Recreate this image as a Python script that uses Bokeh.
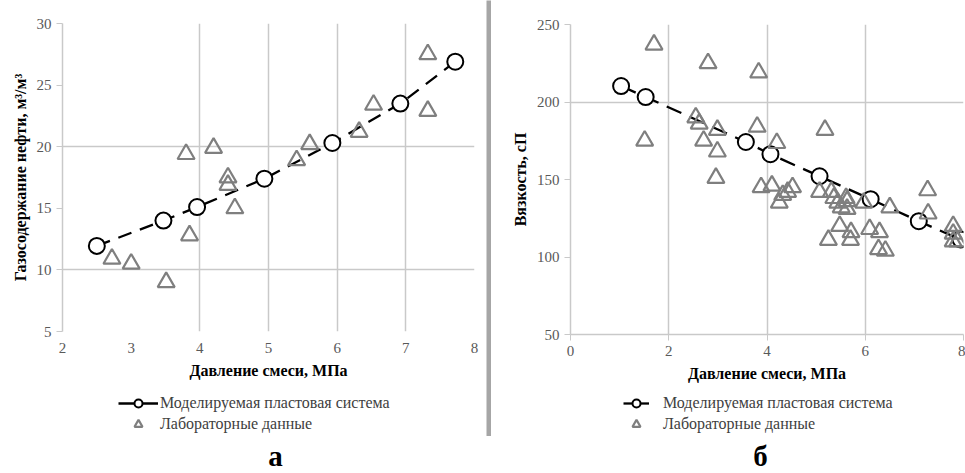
from bokeh.plotting import figure
from bokeh.models import Legend, LegendItem, Label, FixedTicker
from bokeh.layouts import row, column
from bokeh.embed import file_html
from bokeh.resources import INLINE

# ---------------- data ----------------
# Panel a: gas content of oil vs mixture pressure
gas_model_p = [2.5, 3.47, 3.96, 4.94, 5.93, 6.92, 7.72]
gas_model_v = [11.95, 14.0, 15.1, 17.4, 20.3, 23.5, 26.9]
gas_lab_p = [2.72, 3.0, 3.51, 3.80, 3.85, 4.20, 4.41, 4.41, 4.51, 5.41, 5.60, 6.32, 6.53, 7.32, 7.32]
gas_lab_v = [10.9, 10.5, 9.0, 19.4, 12.8, 19.9, 17.5, 16.9, 15.0, 18.9, 20.2, 21.2, 23.4, 27.5, 22.9]

# Panel b: viscosity vs mixture pressure
visc_model_p = [1.03, 1.53, 3.57, 4.07, 5.07, 6.11, 7.09, 7.94]
visc_model_v = [210.3, 203.2, 174.2, 166.3, 152.1, 137.3, 123.1, 111.3]
visc_lab_p = [1.70, 2.80, 3.83, 1.51, 2.55, 2.62, 2.99, 2.71, 2.99, 2.96, 3.80, 3.88, 4.10,
              4.20, 5.18, 4.25, 4.32, 4.42, 4.52, 5.07, 5.31, 5.36, 5.44, 5.51, 5.61, 5.63,
              5.63, 5.97, 5.48, 5.71, 5.70, 5.25, 6.09, 6.29, 6.27, 6.41, 6.50, 7.27, 7.28,
              7.79, 7.79, 7.79, 7.88]
visc_lab_v = [237, 225, 219, 175, 190, 186, 182, 175, 168, 151, 184, 145, 146,
              173.5, 182, 135, 140, 142, 145, 142, 142, 138, 135, 132, 138, 131,
              136, 135, 120, 116, 111, 111, 118, 116, 105, 104, 132, 143, 128,
              120, 115, 110, 110]

gas_xticks = [2, 3, 4, 5, 6, 7, 8]
gas_yticks = [5, 10, 15, 20, 25, 30]
visc_xticks = [0, 2, 4, 6, 8]
visc_yticks = [50, 100, 150, 200, 250]

model_label = "Моделируемая пластовая система"
lab_label = "Лабораторные данные"
x_title = "Давление смеси, МПа"

SERIF = "Liberation Serif"
GRID = "#c9c9c9"
TRI = "#7f7f7f"

LINE_STYLE = dict(line_color="black", line_width=2.3)
CIRC_STYLE = dict(marker="circle", size=16, fill_color="white", line_color="black", line_width=2)
TRI_STYLE = dict(marker="triangle", size=17, fill_color=None, line_color=TRI, line_width=2.2)


def style(p, xticks, yticks, xgrid, ygrid, ytitle):
    p.xaxis.ticker = FixedTicker(ticks=xticks)
    p.yaxis.ticker = FixedTicker(ticks=yticks)
    p.xgrid.ticker = FixedTicker(ticks=xgrid)
    p.ygrid.ticker = FixedTicker(ticks=ygrid)
    for g in (p.xgrid, p.ygrid):
        g.grid_line_color = GRID
        g.grid_line_width = 1.5
    for ax in (p.xaxis, p.yaxis):
        ax.major_label_text_font = SERIF
        ax.major_label_text_font_size = "15px"
        ax.major_label_text_color = "#595959"
        ax.axis_label_text_font = SERIF
        ax.axis_label_text_font_style = "bold"
        ax.axis_label_text_font_size = "16px"
        ax.axis_label_text_color = "#000000"
        ax.axis_line_color = GRID
        ax.axis_line_width = 1.5
        ax.major_tick_line_color = GRID
        ax.minor_tick_line_color = None
        ax.major_tick_in = 0
        ax.major_tick_out = 6
    p.xaxis.axis_label = x_title
    p.yaxis.axis_label = ytitle
    p.xaxis.axis_label_standoff = 6
    p.yaxis.axis_label_standoff = 5
    p.outline_line_color = None
    p.background_fill_color = "white"
    p.border_fill_color = "white"


def bottom_panel(width, bl, br, xs, ys, legend_x, gw, standoff, letter, letter_x):
    """Legend and panel letter below a chart. The swatch renderers reuse the chart's
    data but sit outside this panel's visible range, so only the legend shows."""
    q = figure(width=width, height=81, output_backend="svg", toolbar_location=None,
               min_border_left=bl, min_border_right=br, min_border_top=0, min_border_bottom=0,
               x_axis_type=None, y_axis_type=None, x_range=(-1000, -999), y_range=(-1000, -999))
    q.outline_line_color = None
    q.grid.visible = False
    q.background_fill_color = "white"
    q.border_fill_color = "white"
    r_line = q.line(xs[0], ys[0], line_dash="solid", **LINE_STYLE)
    r_circ = q.scatter(xs[0], ys[0], **CIRC_STYLE)
    r_tri = q.scatter(xs[1], ys[1], **TRI_STYLE)
    leg = Legend(items=[LegendItem(label=model_label, renderers=[r_line, r_circ]),
                        LegendItem(label=lab_label, renderers=[r_tri])],
                 location=(legend_x, 39), orientation="vertical",
                 glyph_width=gw, glyph_height=20, label_height=20, spacing=1,
                 label_standoff=standoff, padding=0, margin=0,
                 label_text_font=SERIF, label_text_font_size="16px", label_text_color="#404040",
                 border_line_color=None, background_fill_alpha=0)
    q.add_layout(leg, "center")
    q.add_layout(Label(x=letter_x, y=18, x_units="screen", y_units="screen", text=letter,
                       text_font=SERIF, text_font_style="bold", text_font_size="29px",
                       text_align="center", text_baseline="middle", text_color="black"))
    return q


# ---------------- panel a ----------------
pa = figure(width=486, height=392, x_range=(2, 8), y_range=(5, 30),
            output_backend="svg", toolbar_location=None,
            min_border_left=62, min_border_right=12, min_border_top=23, min_border_bottom=61)
style(pa, gas_xticks, gas_yticks, [4, 5, 6, 7, 8], [10, 20, 30],
      "Газосодержание нефти, м³/м³")
pa.xaxis.axis_line_color = None
pa.xaxis.major_tick_line_color = None

pa.line(gas_model_p, gas_model_v, line_dash="14 9", **LINE_STYLE)
pa.scatter(gas_model_p, gas_model_v, **CIRC_STYLE)
pa.scatter(gas_lab_p, gas_lab_v, **TRI_STYLE)
qa = bottom_panel(486, 62, 12, (gas_model_p, gas_lab_p), (gas_model_v, gas_lab_v),
                  56, 40, 2, "а", 213)

# ---------------- separator ----------------
sep = figure(width=5, height=436, output_backend="svg", toolbar_location=None,
             min_border=0, x_axis_type=None, y_axis_type=None,
             background_fill_color="#a6a6a6", border_fill_color="#a6a6a6")
sep.outline_line_color = None
sep.grid.visible = False

# ---------------- panel b ----------------
pb = figure(width=474, height=392, x_range=(0, 8), y_range=(50, 250),
            output_backend="svg", toolbar_location=None,
            min_border_left=79, min_border_right=2, min_border_top=24, min_border_bottom=58)
style(pb, visc_xticks, visc_yticks, [2, 4, 6, 8], [200, 250], "Вязкость, сП")

pb.line(visc_model_p, visc_model_v, line_dash="16 9", **LINE_STYLE)
pb.scatter(visc_model_p, visc_model_v, **CIRC_STYLE)
pb.scatter(visc_lab_p, visc_lab_v, **TRI_STYLE)
qb = bottom_panel(474, 79, 2, (visc_model_p, visc_lab_p), (visc_model_v, visc_lab_v),
                  53, 26, 14, "б", 190)

layout = row(column(pa, qa, spacing=0), sep, column(pb, qb, spacing=0), spacing=0)
open("out.html", "w").write(file_html(layout, INLINE))
